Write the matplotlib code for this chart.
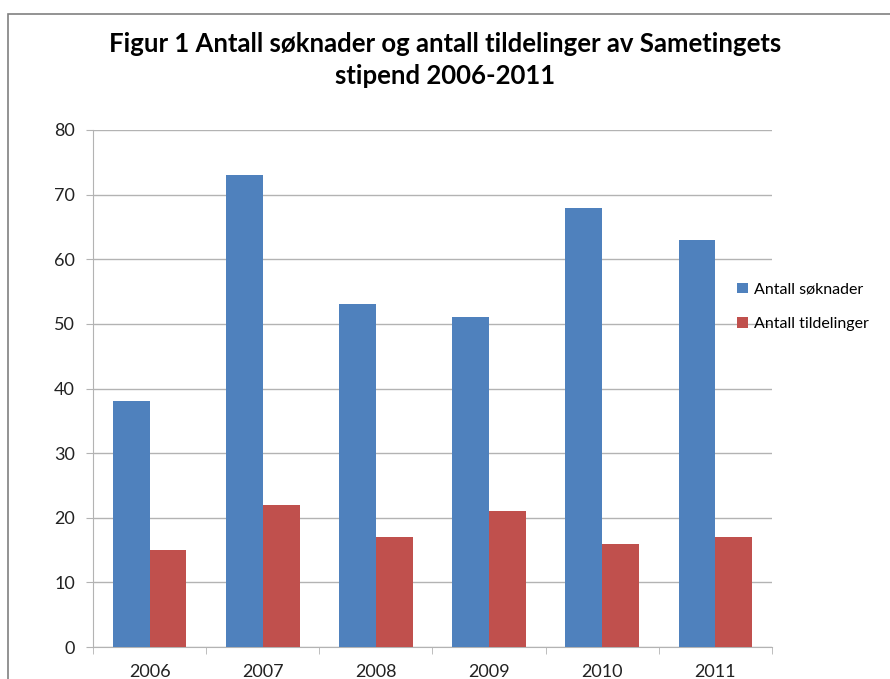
import numpy as np
import matplotlib
matplotlib.use('Agg')
import matplotlib.pyplot as plt
from matplotlib.patches import Rectangle

# Data
years = ['2006', '2007', '2008', '2009', '2010', '2011']
soknader = [38, 73, 53, 51, 68, 63]
tildelinger = [15, 22, 17, 21, 16, 17]

Blue = '#4F81BD'
Red = '#C0504D'
Grid = '#b3b3b3'

plt.rcParams['font.family'] = ['Lato', 'DejaVu Sans']

fig = plt.figure(figsize=(8.9, 6.79), dpi=100)
ax = fig.add_axes([93/890, 1-647/679, (772-93)/890, (647-130)/679])

x = np.arange(len(years))
w = 0.326
ax.bar(x - w/2, soknader, w, color=Blue, label='Antall søknader', zorder=3)
ax.bar(x + w/2, tildelinger, w, color=Red, label='Antall tildelinger', zorder=3)

ax.set_xlim(-0.5, len(years) - 0.5)
ax.set_ylim(0, 80)
ax.set_yticks(range(0, 81, 10))
ax.yaxis.grid(True, color=Grid, linewidth=1, zorder=0)
ax.set_xticks(x)
ax.set_xticklabels(years)
ax.set_xticks(np.arange(-0.5, len(years)), minor=True)
ax.tick_params(axis='x', which='major', length=0, pad=12, labelsize=13, colors='#222222')
ax.tick_params(axis='x', which='minor', length=5, color=Grid, direction='out')
ax.tick_params(axis='y', length=5, labelsize=13, pad=8, colors=Grid, labelcolor='#222222')

for s in ['top', 'right']:
    ax.spines[s].set_visible(False)
ax.spines['left'].set_color(Grid)
ax.spines['bottom'].set_color(Grid)

handles, labels = ax.get_legend_handles_labels()
leg = fig.legend(handles, labels, loc='center left',
                 bbox_to_anchor=(734/890, 1-307/679), frameon=False,
                 fontsize=11.5, handlelength=0.65, handleheight=0.65,
                 handletextpad=0.4, labelspacing=1.3, borderpad=0.2,
                 borderaxespad=0)

fig.text(0.5, 1-44/679, 'Figur 1 Antall søknader og antall tildelinger av Sametingets',
         ha='center', va='center', fontsize=18.5, fontweight='bold')
fig.text(0.5, 1-76/679, 'stipend 2006-2011',
         ha='center', va='center', fontsize=18.5, fontweight='bold')

# chart area border (cut off at right and bottom in the reference)
fig.patches.append(Rectangle((8/890, -0.1), 1.0, 1 - 14/679 + 0.1,
                             transform=fig.transFigure, fill=False,
                             edgecolor='#808080', linewidth=1.2))

fig.savefig('out.png', dpi=100)
